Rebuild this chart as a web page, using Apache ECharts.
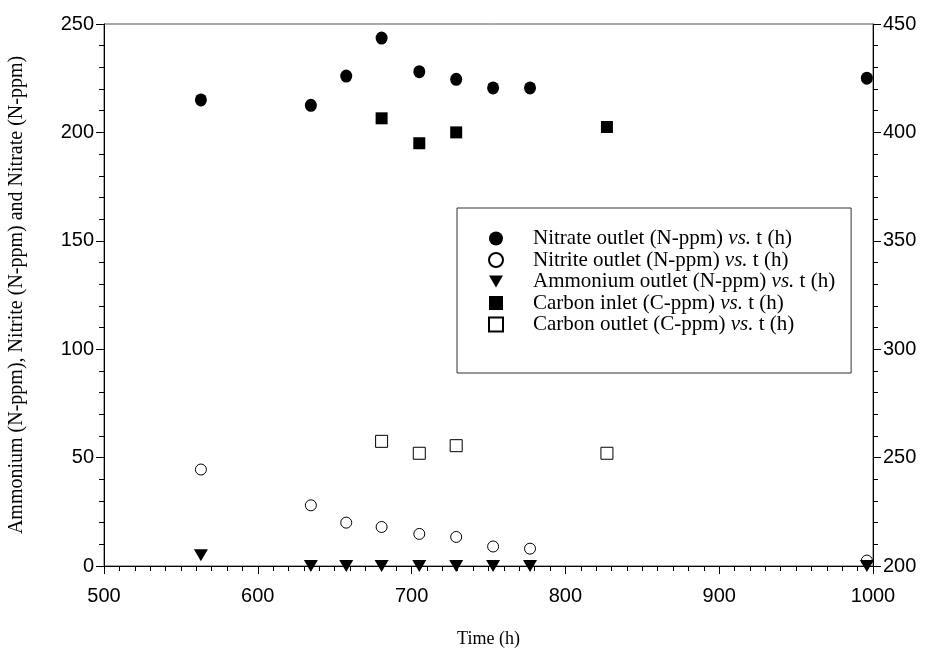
<!DOCTYPE html>
<html><head><meta charset="utf-8">
<script src="https://cdn.jsdelivr.net/npm/echarts@6/dist/echarts.min.js"></script>
<style>html,body{margin:0;padding:0;background:#fff}#c{width:932px;height:649px}</style>
</head><body><div id="c"></div>
<script>
// Time (h)
const timeN = [563, 634.5, 657.5, 680.5, 705, 729, 753, 777, 996];
const nitrate = [215, 212.5, 226, 243.5, 228, 224.5, 220.5, 220.5, 225];
const nitrite = [44.5, 28, 20, 18, 14.8, 13.4, 9, 8, 2.5];
const ammonium = [5, 0, 0, 0, 0, 0, 0, 0, 0];
const timeC = [680.5, 705, 729, 827];
const carbonIn = [406.5, 395, 400, 402.5];
const carbonOut = [257.5, 252, 255.5, 252];
const seriesNames = [
  'Nitrate outlet (N-ppm)', 'Nitrite outlet (N-ppm)', 'Ammonium outlet (N-ppm)',
  'Carbon inlet (C-ppm)', 'Carbon outlet (C-ppm)'
];

const pairs = (xs, ys) => xs.map((x, i) => [x, ys[i]]);
const serif = 'Liberation Serif';
const sans = 'Liberation Sans';
const triDown = 'path://M0,0 L14,0 L7,12 Z';
const solid = {color: '#000', opacity: 1};
const hollow = {color: '#fff', borderColor: '#000', borderWidth: 1, opacity: 1};

const chart = echarts.init(document.getElementById('c'), null, {renderer: 'canvas'});
chart.setOption({
  animation: false,
  backgroundColor: '#fff',
  grid: {left: 104, right: 59, top: 24, bottom: 83, show: true, borderColor: '#555', borderWidth: 1,
         backgroundColor: 'transparent', containLabel: false, outerBoundsMode: 'none'},
  legend: {
    orient: 'vertical', left: 457, top: 208,
    padding: [20, 16, 38, 31], itemGap: 0.5, itemWidth: 14, itemHeight: 14,
    borderColor: '#333', borderWidth: 1,
    data: seriesNames,
    formatter: n => '{a|' + n + ' }{i|vs.}{a| t (h)}',
    textStyle: {
      fontFamily: serif, fontSize: 21, lineHeight: 21, color: '#000', padding: [0,0,0,25],
      rich: {a: {fontFamily: serif, fontSize: 21, lineHeight: 21, color: '#000'}, i: {fontFamily: serif, fontSize: 21, lineHeight: 21, fontStyle: 'italic', color: '#000'}}
    }
  },
  xAxis: {
    type: 'value', min: 500, max: 1000, interval: 100,
    name: 'Time (h)', nameLocation: 'middle', nameGap: 64,
    nameTextStyle: {fontFamily: serif, fontSize: 18, color: '#000'},
    axisLine: {onZero: false, lineStyle: {color: '#000', width: 1}},
    axisTick: {length: 8, lineStyle: {color: '#000'}},
    minorTick: {show: true, splitNumber: 10, length: 5, lineStyle: {color: '#000'}},
    axisLabel: {fontFamily: sans, fontSize: 20, color: '#000', margin: 20, formatter: v => String(v)},
    splitLine: {show: false}
  },
  yAxis: [{
    type: 'value', min: 0, max: 250, interval: 50, position: 'left',
    name: 'Ammonium (N-ppm), Nitrite (N-ppm) and Nitrate (N-ppm)', nameLocation: 'middle', nameGap: 77,
    nameTextStyle: {fontFamily: serif, fontSize: 20, color: '#000'},
    axisLine: {show: true, onZero: false, lineStyle: {color: '#000'}},
    axisTick: {show: true, length: 8, lineStyle: {color: '#000'}},
    minorTick: {show: true, splitNumber: 5, length: 5, lineStyle: {color: '#000'}},
    axisLabel: {fontFamily: sans, fontSize: 20, color: '#000', margin: 10},
    splitLine: {show: false}
  }, {
    type: 'value', min: 200, max: 450, interval: 50, position: 'right',
    axisLine: {show: true, onZero: false, lineStyle: {color: '#000'}},
    axisTick: {show: true, length: 8, lineStyle: {color: '#000'}},
    minorTick: {show: true, splitNumber: 5, length: 5, lineStyle: {color: '#000'}},
    axisLabel: {fontFamily: sans, fontSize: 20, color: '#000', margin: 10},
    splitLine: {show: false}
  }],
  series: [
    {name: seriesNames[0], type: 'scatter', yAxisIndex: 0, symbol: 'circle', symbolSize: [12, 13],
     itemStyle: solid, data: pairs(timeN, nitrate)},
    {name: seriesNames[1], type: 'scatter', yAxisIndex: 0, symbol: 'circle', symbolSize: 11,
     itemStyle: hollow, data: pairs(timeN, nitrite)},
    {name: seriesNames[2], type: 'scatter', yAxisIndex: 0, symbol: triDown, symbolSize: [14, 12],
     itemStyle: solid, data: pairs(timeN, ammonium)},
    {name: seriesNames[3], type: 'scatter', yAxisIndex: 1, symbol: 'rect', symbolSize: 12,
     itemStyle: solid, data: pairs(timeC, carbonIn)},
    {name: seriesNames[4], type: 'scatter', yAxisIndex: 1, symbol: 'rect', symbolSize: 12,
     itemStyle: hollow, data: pairs(timeC, carbonOut)}
  ]
});
</script></body></html>
